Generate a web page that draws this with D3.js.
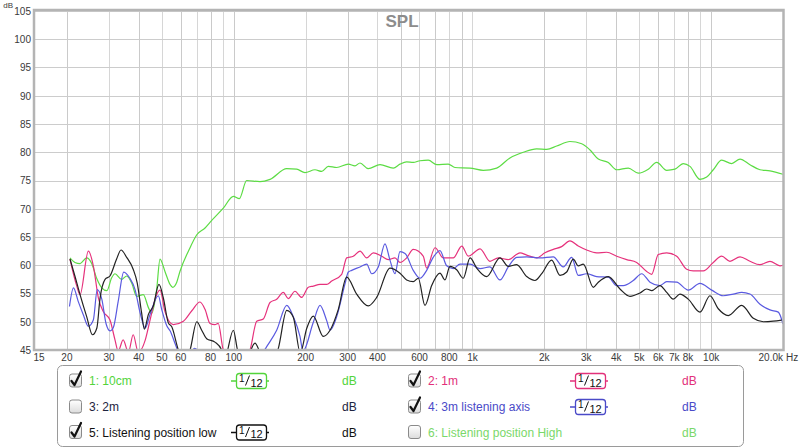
<!DOCTYPE html>
<html>
<head>
<meta charset="utf-8">
<script src="https://cdn.jsdelivr.net/npm/d3@7"></script>
<style>
	body { margin: 0; background: #fff; }
	svg text { font-family: "Lucida Grande", "Liberation Sans", sans-serif; }
</style>
</head>
<body>
<div id="splChart"></div>
<script>
//Data: [Hz, dB]
var spl10cm = [
	[20.6,61.3],[21.6,60.5],[22.7,60.3],[24.2,61.3],[25.4,60.3],[26.7,57.6],[28,56],[29.4,55.5],[30.8,57.8],[31.8,58.5],
	[33.9,57.5],[35.6,58.1],[37.4,56.8],[39.2,54.5],[41.8,54.8],[43.9,52.5],[45.3,51.5],[47.5,55.6],[49.1,61.1],[51.5,58.9],
	[54.1,56.6],[55.5,56.1],[57.7,57],[59.5,58.9],[65.6,63.1],[70,65.4],[75.8,66.6],[79.5,67.6],[90.4,70.1],[99.6,72.2],
	[105.5,71.8],[113.3,75],[128.8,74.8],[141.9,75.2],[166.7,77.1],[183.5,77],[198.8,76.4],[218.9,76.9],[233.6,76.6],[249,77.5],
	[270,77.3],[302,77.9],[322,77.6],[338,78.1],[366,77.1],[410,77.8],[466,77.2],[497,77.9],[530,78.3],[565,78.2],
	[603,78.5],[653,78.6],[709,77.8],[792,77.9],[845,77.3],[977,77.2],[1110,76.8],[1263,77.2],[1436,79],[1633,80],
	[1858,80.6],[2047,80.5],[2254,81.1],[2562,81.9],[2869,81.5],[3108,80.4],[3367,78.8],[3708,78.2],[4021,76.9],[4497,77.2],
	[4952,76.3],[5453,77],[5914,78.2],[6513,76.8],[7055,77],[7643,78],[8152,77.5],[8979,75.2],[9579,75.6],[10207,76.9],
	[11070,78.6],[12190,78],[13210,78.8],[14540,77.8],[16020,76.9],[17640,76.7],[20000,76.1]
];

var spl1m = [
	[20.6,61.1],[22,56.3],[22.7,54.8],[24.6,62.5],[25.8,59.9],[27.1,54.2],[28.4,51.8],[30.3,50.3],[31.8,46.8],[32.8,44.8],
	[34.4,46.8],[36.2,44.6],[37.9,47.7],[39.8,44.6],[42.6,46.8],[44.6,50.3],[47.5,54.8],[49.1,55.6],[51.5,51.8],[55.8,49.5],
	[61.5,50.1],[66.6,51.9],[72.2,53.5],[75.8,52.2],[79.5,49.7],[83.4,49.5],[86.1,49.7],[90.4,45],[104,42],[117,45],
	[124.8,50.1],[133,50.5],[141.9,53.4],[151.3,54],[161.3,55.2],[169.2,54.1],[180.5,55.4],[192.6,54.3],[205.3,56.1],[215.4,56.3],
	[229.8,56.6],[245.1,56.6],[257.2,57.2],[283.3,58.4],[297.2,61.3],[316.8,61.6],[338,62.5],[360.5,61.3],[384.3,62.2],[416.7,61.6],
	[444,61],[473.7,61.3],[497,60.5],[530,61.3],[565,62.8],[622,61.6],[643,59.5],[697,63.1],[755,61.3],[831,61.3],
	[902,63.4],[961,61.6],[1076,62.9],[1184,60.7],[1283,61.3],[1413,61],[1582,62.2],[1688,61.8],[1858,61.3],[2013,62.2],
	[2181,62.8],[2364,63.3],[2562,64.3],[2775,63.4],[3009,62.7],[3315,62.2],[3650,62.3],[4021,61.6],[4427,61],[4875,60.5],
	[5370,58.9],[5636,58.4],[6004,61.9],[6513,62.2],[7170,61.6],[7898,59.3],[8417,59],[9268,59],[10207,60.5],[11070,61.6],
	[11990,60.7],[13210,61.5],[14540,60.7],[16020,60.1],[17640,60.7],[19430,59.9],[20000,60]
];

var spl3mAxis = [
	[20.5,52.7],[21.3,56],[22.3,53.6],[23.4,51.3],[24.6,49.2],[25.8,50.3],[26.8,55.7],[28,54],[29.2,49.6],[30.3,48.4],
	[31.3,49],[32.8,53.6],[34.6,58.8],[36.7,57.7],[38.6,55.7],[40.5,51.6],[42.6,48.9],[44.6,51.3],[48.3,54.6],[49.9,52.2],
	[52.4,49.3],[54.1,48.4],[56.7,46.2],[58.6,44.6],[62,43],[66.6,44.7],[68.5,45.3],[72.2,44.5],[80,42],[100,41.5],
	[120,42.5],[130,44],[137.4,45.6],[151.3,48.5],[166.7,52.9],[177.6,50.9],[189.4,47.4],[195,44.8],[215.4,49.9],[229.8,52.9],
	[245.1,50.2],[253.1,48.5],[270,50.9],[292.4,56.7],[302,58.8],[312,59.1],[338,59.7],[360.5,60.2],[378.4,58.5],[403.2,59.7],
	[430,63.8],[451.3,60.9],[473.7,58.5],[497,62.4],[521.8,62.1],[565,59.1],[603,57.7],[643,59.1],[685,61.4],[731,62.6],
	[780,59.9],[831,59.4],[887,60.2],[977,60.2],[1076,59.4],[1184,59.7],[1304,57.4],[1413,59.7],[1532,61.4],[1688,61.5],
	[1919,61.3],[2181,61.5],[2402,59.7],[2604,61.4],[2775,58.2],[3009,58.5],[3315,58],[3708,57.9],[4021,56.4],[4284,56.4],
	[4719,57.3],[5117,58.5],[5545,57],[6103,56.4],[6513,57.1],[7170,57],[8020,55.6],[8979,56.8],[10050,55.6],[11240,54.6],
	[12380,54.9],[13430,55.2],[14540,54.9],[16020,53.1],[17640,52.1],[19110,51.7],[20000,49.6]
];

var splLow = [
	[20.6,61.1],[21.6,58.1],[22.7,54.8],[24.2,50.9],[25.6,47.7],[26.7,48.9],[27.5,54],[28.9,57.5],[30.3,58.1],[32.3,61.1],
	[33.7,62.7],[35.6,61.4],[37.9,59.3],[39.4,56.9],[41.1,51.6],[42.2,48.7],[43.9,51.3],[46,52.8],[48.6,56.6],[50.7,54.2],
	[53.2,49.8],[55,49.1],[58.6,45],[62,43],[65.6,45],[70,50],[73.4,48.5],[77,47],[83.4,46.4],[89,45],
	[91.5,43.5],[99.6,48.5],[104,44.8],[112,43],[122.7,46.2],[128.8,44.6],[140,42],[153.7,45.3],[166.7,52],[177.6,50.8],
	[190,44.5],[202.1,48.8],[215.4,51],[237.2,47.4],[253.1,48.5],[274.2,52.2],[297.2,57.9],[327.3,54.9],[366,52.8],[397,54.3],
	[451.3,59.5],[497,58.6],[530,57.4],[565,57.1],[593,57.7],[632.5,52.9],[674.9,56.4],[731,58.6],[767,57.4],[805,59.8],
	[859,59.2],[915,57.7],[977,61.3],[1042,59.5],[1147,58],[1304,61.3],[1413,59.8],[1532,60.1],[1688,58],[1828,57.3],
	[1950,58.5],[2147,60.9],[2327,58.2],[2482,58.8],[2645,61.1],[2775,59.9],[2913,60.2],[3208,56.1],[3367,57],[3708,58],
	[4150,55.8],[4571,54.5],[5034,55.1],[5370,55.8],[5636,55.5],[6103,56.4],[6513,55.2],[6938,54],[7401,54.9],[8020,54],
	[8979,51.7],[9888,54.6],[10713,52.3],[11800,51.1],[13430,52.9],[15020,50.6],[16540,50],[18210,50.1],[19750,50.3]
];

//Axis ticks
var freqTicks = [15, 20, 30, 40, 50, 60, 80, 100, 200, 300, 400, 600, 800, 1000, 2000, 3000, 4000, 5000, 6000, 7000, 8000, 10000];
var freqTickLabels = ["15", "20", "30", "40", "50", "60", "80", "100", "200", "300", "400", "600", "800", "1k", "2k", "3k", "4k", "5k", "6k", "7k", "8k", "10k"];
var dbTicks = [45, 50, 55, 60, 65, 70, 75, 80, 85, 90, 95, 100, 105];

//Legend entries (in measurement order)
var legendNames = ["1: 10cm", "2: 1m", "3: 2m", "4: 3m listening axis", "5: Listening position low", "6: Listening position High"];
var legendChecked = [true, true, false, true, true, false];
var legendSmoothing = ["1/12", "1/12", null, "1/12", "1/12", null];

var legendColors = ["#52d43a", "#e2307a", "#1d2440", "#4a4ac8", "#111111", "#7ad86a"];
var lineColors = { spl10cm: "#5cdc44", spl1m: "#e6327c", spl3mAxis: "#5a5ae0", splLow: "#222222" };

var render = function() {
	var width = 800;
	var height = 448;
	var plot = { left: 35, right: 783, top: 11, bottom: 350 };

	var svg = d3.select('#splChart')
		.append('svg')
		.attr('width', width)
		.attr('height', height);

	//Scales
	var x = d3.scaleLog()
		.domain([14.7, 20000])
		.range([plot.left, plot.right]);

	var y = d3.scaleLinear()
		.domain([45, 105])
		.range([plot.bottom, plot.top]);

	//Grid: every 1..9 step per decade from 20 Hz to 10 kHz
	var gridFreqs = [];
	[10, 100, 1000].forEach(function(dec) {
		for (var k = 1; k < 10; k++) {
			if (k * dec >= 20) gridFreqs.push(k * dec);
		}
	});
	gridFreqs.push(10000);

	var grid = svg.append("g").attr("class", "grid");
	grid.selectAll(".vgrid")
		.data(gridFreqs)
		.enter()
		.append("line")
		.attr("x1", function(d) { return Math.round(x(d)) + 0.5; })
		.attr("x2", function(d) { return Math.round(x(d)) + 0.5; })
		.attr("y1", plot.top)
		.attr("y2", plot.bottom)
		.attr("stroke", function(d, i) { return i % 2 ? "#d6d6d6" : "#cacaca"; })
		.attr("stroke-width", 1);

	grid.selectAll(".hgrid")
		.data(dbTicks)
		.enter()
		.append("line")
		.attr("x1", plot.left)
		.attr("x2", plot.right)
		.attr("y1", function(d) { return Math.round(y(d)) + 0.5; })
		.attr("y2", function(d) { return Math.round(y(d)) + 0.5; })
		.attr("stroke", "#cccccc")
		.attr("stroke-width", 1);

	//Curves
	svg.append("clipPath")
		.attr("id", "plotClip")
		.append("rect")
		.attr("x", plot.left)
		.attr("y", plot.top)
		.attr("width", plot.right - plot.left)
		.attr("height", plot.bottom - plot.top);

	var line = d3.line()
		.x(function(d) { return x(d[0]); })
		.y(function(d) { return y(d[1]); })
		.curve(d3.curveMonotoneX);

	var curves = [
		{ key: "spl10cm", values: spl10cm },
		{ key: "spl1m", values: spl1m },
		{ key: "spl3mAxis", values: spl3mAxis },
		{ key: "splLow", values: splLow }
	];

	svg.append("g")
		.attr("clip-path", "url(#plotClip)")
		.selectAll("path")
		.data(curves)
		.enter()
		.append("path")
		.attr("d", function(d) { return line(d.values); })
		.attr("fill", "none")
		.attr("stroke", function(d) { return lineColors[d.key]; })
		.attr("stroke-width", 1.2)
		.attr("stroke-linejoin", "round");

	//Frame
	svg.append("rect")
		.attr("x", plot.left - 1)
		.attr("y", plot.top - 1)
		.attr("width", plot.right - plot.left + 1.5)
		.attr("height", plot.bottom - plot.top + 1)
		.attr("fill", "none")
		.attr("stroke", "#b4b4b4")
		.attr("stroke-width", 2.5);

	//Y axis labels
	svg.append("g")
		.selectAll("text")
		.data(dbTicks)
		.enter()
		.append("text")
		.attr("x", 31)
		.attr("y", function(d) { return y(d) + 3.8; })
		.attr("text-anchor", "end")
		.attr("font-size", "10px")
		.attr("fill", "#3a3a3a")
		.text(function(d) { return d; });

	//unit label, tucked just left of the top tick
	svg.append("text")
		.attr("x", 13)
		.attr("y", 8)
		.attr("text-anchor", "end")
		.attr("font-size", "8px")
		.attr("fill", "#3a3a3a")
		.text("dB");

	//X axis labels
	svg.append("g")
		.selectAll("text")
		.data(freqTicks)
		.enter()
		.append("text")
		.attr("x", function(d, i) { return i === 0 ? x(d) + 2 : x(d); })
		.attr("y", 361)
		.attr("text-anchor", "middle")
		.attr("font-size", "10px")
		.attr("fill", "#3a3a3a")
		.text(function(d, i) { return freqTickLabels[i]; });

	svg.append("text")
		.attr("x", x(20000))
		.attr("y", 361)
		.attr("text-anchor", "end")
		.attr("font-size", "10px")
		.attr("fill", "#3a3a3a")
		.text("20.0k");

	svg.append("text")
		.attr("x", 786)
		.attr("y", 361)
		.attr("font-size", "10px")
		.attr("fill", "#3a3a3a")
		.text("Hz");

	//Title
	svg.append("text")
		.attr("x", 402)
		.attr("y", 27)
		.attr("text-anchor", "middle")
		.attr("font-size", "17px")
		.attr("font-weight", "bold")
		.attr("fill", "#8c8c8c")
		.text("SPL");

	//Legend
	svg.append("rect")
		.attr("x", 57.5)
		.attr("y", 365.5)
		.attr("width", 686)
		.attr("height", 81)
		.attr("rx", 5)
		.attr("fill", "#fff")
		.attr("stroke", "#9a9a9a");

	var cols = [
		{ box: 69, text: 89, smooth: 231, db: 342 },
		{ box: 408, text: 428, smooth: 570, db: 682 }
	];
	var rowY = [380.5, 406.5, 432];

	var defs = svg.append("defs");
	var grad = defs.append("linearGradient")
		.attr("id", "boxGrad")
		.attr("x1", 0).attr("y1", 0).attr("x2", 0).attr("y2", 1);
	grad.append("stop").attr("offset", "0%").attr("stop-color", "#ffffff");
	grad.append("stop").attr("offset", "100%").attr("stop-color", "#dcdcdc");

	var items = svg.selectAll(".legendItem")
		.data(legendNames)
		.enter()
		.append("g")
		.attr("class", "legendItem")
		.attr("transform", function(d, i) {
			return "translate(0," + rowY[Math.floor(i / 2)] + ")";
		});

	//checkbox
	items.append("rect")
		.attr("x", function(d, i) { return cols[i % 2].box + 0.5; })
		.attr("y", -6.5)
		.attr("width", 12)
		.attr("height", 13)
		.attr("rx", 2.5)
		.attr("fill", "url(#boxGrad)")
		.attr("stroke", "#8a8a8a");

	items.filter(function(d, i) { return legendChecked[i]; })
		.append("path")
		.attr("d", function(d) {
			var bx = cols[legendNames.indexOf(d) % 2].box;
			return "M" + (bx + 2.5) + ",0.5 L" + (bx + 5.5) + ",4.5 L" + (bx + 12) + ",-9";
		})
		.attr("fill", "none")
		.attr("stroke", "#111")
		.attr("stroke-width", 2.2)
		.attr("stroke-linecap", "round")
		.attr("stroke-linejoin", "round");

	//name
	items.append("text")
		.attr("x", function(d, i) { return cols[i % 2].text; })
		.attr("y", 4.5)
		.attr("font-size", "12px")
		.attr("fill", function(d, i) { return legendColors[i]; })
		.text(function(d) { return d; });

	//dB unit
	items.append("text")
		.attr("x", function(d, i) { return cols[i % 2].db; })
		.attr("y", 4.5)
		.attr("font-size", "12px")
		.attr("fill", function(d, i) { return legendColors[i]; })
		.text("dB");

	//smoothing widget
	var smooth = items.filter(function(d, i) { return legendSmoothing[i] !== null; })
		.append("g")
		.attr("transform", function(d) {
			return "translate(" + cols[legendNames.indexOf(d) % 2].smooth + ",0)";
		});

	smooth.append("line")
		.attr("x1", 0)
		.attr("x2", 38)
		.attr("y1", 0.5)
		.attr("y2", 0.5)
		.attr("stroke", function(d) { return legendColors[legendNames.indexOf(d)]; })
		.attr("stroke-width", 1.3);

	smooth.append("rect")
		.attr("x", 5.5)
		.attr("y", -7)
		.attr("width", 30)
		.attr("height", 15)
		.attr("rx", 3)
		.attr("fill", "#fff")
		.attr("stroke", function(d) { return legendColors[legendNames.indexOf(d)]; })
		.attr("stroke-width", 1.3);

	//1/12 written as a stacked fraction
	smooth.append("text")
		.attr("x", 8)
		.attr("y", 1.5)
		.attr("font-size", "10px")
		.attr("fill", "#111")
		.text("1");
	smooth.append("line")
		.attr("x1", 14.5).attr("y1", 5)
		.attr("x2", 18.5).attr("y2", -5)
		.attr("stroke", "#111")
		.attr("stroke-width", 1);
	smooth.append("text")
		.attr("x", 19.5)
		.attr("y", 6)
		.attr("font-size", "11px")
		.attr("fill", "#111")
		.text("12");
};

render();
</script>
</body>
</html>
